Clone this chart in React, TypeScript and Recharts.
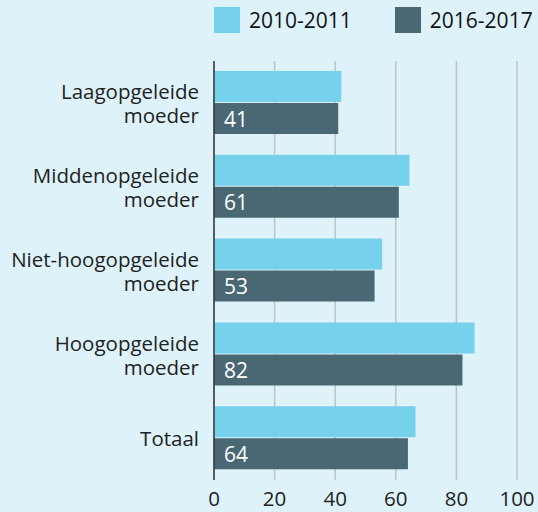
import { Bar, BarChart, CartesianGrid, LabelList, XAxis, YAxis } from 'recharts';

const categories = [
  ['Laagopgeleide', 'moeder'],
  ['Middenopgeleide', 'moeder'],
  ['Niet-hoogopgeleide', 'moeder'],
  ['Hoogopgeleide', 'moeder'],
  ['Totaal'],
];
const values2010 = [42, 64.5, 55.5, 86, 66.5];
const values2016 = [41, 61, 53, 82, 64];
const seriesNames = ['2010-2011', '2016-2017'];
const xTicks = [0, 20, 40, 60, 80, 100];

const LIGHT = '#76D1EC';
const DARK = '#496874';
const BG = '#DEF2FA';
const FONT = '"Open Sans", sans-serif';

const data = categories.map((lines, i) => ({
  name: lines.join(' '),
  a: values2010[i],
  b: values2016[i],
}));

// tick x arrives already shifted left by tickSize + tickMargin (8px)
function CategoryTick({ x, y, index }: any) {
  const lines = categories[index] || [];
  const offsets = lines.length === 2 ? [-3.5, 20.5] : [7.5];
  const tx = x - 7;
  return (
    <text x={tx} y={y} textAnchor="end" fill="#222" fontSize={20.5} fontFamily={FONT}>
      {lines.map((l, i) => (
        <tspan key={i} x={tx} y={y + offsets[i]}>{l}</tspan>
      ))}
    </text>
  );
}

function ValueLabel({ x, y, height, value }: any) {
  return (
    <text x={x + 10} y={y + height / 2 + 8} fill="#fff" fontSize={21} fontFamily={FONT}>
      {value}
    </text>
  );
}

export default function App() {
  return (
    <div style={{ position: 'relative', width: 538, height: 512, background: BG, fontFamily: FONT }}>
      <style>{'body{margin:0}'}</style>
      <div style={{ position: 'absolute', top: 7, left: 214, display: 'flex', fontSize: 21, color: '#111', lineHeight: '26px' }}>
        {seriesNames.map((n, i) => (
          <div key={n} style={{ display: 'flex', alignItems: 'center', marginRight: i === 0 ? 43 : 0 }}>
            <span style={{ width: 26, height: 26, background: i === 0 ? LIGHT : DARK, marginRight: 9 }} />
            <span>{n}</span>
          </div>
        ))}
      </div>
      <BarChart
        width={538}
        height={512}
        data={data}
        layout="vertical"
        margin={{ top: 61, right: 21, bottom: 0, left: 0 }}
        barSize={31}
        barGap={1}
      >
        <CartesianGrid horizontal={false} stroke="#BDC3C7" strokeWidth={1.5} />
        <XAxis
          type="number"
          domain={[0, 100]}
          ticks={xTicks}
          height={32}
          axisLine={false}
          tickLine={false}
          tickMargin={5}
          tick={{ fill: '#222', fontSize: 20.5, fontFamily: FONT }}
        />
        <YAxis
          type="category"
          dataKey="name"
          width={214}
          axisLine={{ stroke: '#333', strokeWidth: 1.5 }}
          tickLine={false}
          tick={<CategoryTick />}
          interval={0}
        />
        <Bar dataKey="a" name={seriesNames[0]} fill={LIGHT} isAnimationActive={false} />
        <Bar dataKey="b" name={seriesNames[1]} fill={DARK} isAnimationActive={false}>
          <LabelList dataKey="b" content={<ValueLabel />} />
        </Bar>
      </BarChart>
    </div>
  );
}
